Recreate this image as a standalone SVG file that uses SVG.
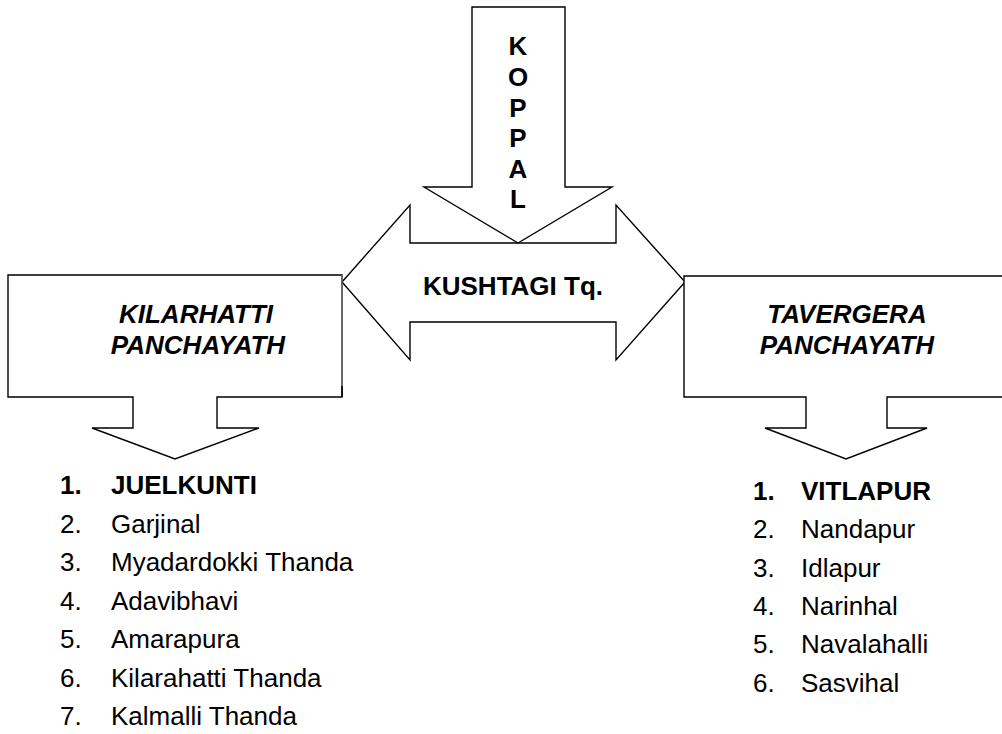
<svg xmlns="http://www.w3.org/2000/svg" width="1002" height="734" viewBox="0 0 1002 734">
<style>
.shape{fill:#fff;stroke:#000;stroke-width:1.4;stroke-linejoin:miter}
.edge{fill:none;stroke:#000;stroke-width:1.4}
.t{font-family:"Liberation Sans",Arial,sans-serif;font-size:26px;fill:#000}
.b{font-weight:bold}
.bi{font-weight:bold;font-style:italic}
.c{text-anchor:middle}
</style>
<rect width="1002" height="734" fill="#fff"/>
<g id="connectors"></g>
<g id="kushtagi">
<polygon class="shape" points="342,282 410,205 410,243 616,243 616,205 685,282 616,360 616,322 410,322 410,360"/>
<text class="t b c" x="513" y="295">KUSHTAGI Tq.</text>
</g>
<g id="koppal">
<polygon class="shape" points="472,7 565,7 565,187 612,187 518,243 424,187 472,187"/>
<text class="t b c" x="518" y="55">K</text>
<text class="t b c" x="518" y="86">O</text>
<text class="t b c" x="518" y="117">P</text>
<text class="t b c" x="518" y="147">P</text>
<text class="t b c" x="518" y="178">A</text>
<text class="t b c" x="518" y="208">L</text>
</g>
<g id="kilarhatti">
<polygon class="shape" points="342,275 8,275 8,397 133,397 133,428 92,428 175,459 259,428 217,428 217,397 342,397" style="fill:#fff"/>
<line x1="342" y1="275" x2="342" y2="386" stroke="#999" stroke-width="0.8"/>
<line x1="342" y1="386" x2="342" y2="397" class="edge"/>
<text class="t bi c" x="196" y="323">KILARHATTI</text>
<text class="t bi c" x="198" y="354">PANCHAYATH</text>
</g>
<g id="tavergera">
<polygon class="shape" points="1010,276 684,276 684,397 806,397 806,428 765,428 846,459 927,428 887,428 887,397 1010,397"/>
<text class="t bi c" x="847" y="323">TAVERGERA</text>
<text class="t bi c" x="847" y="354">PANCHAYATH</text>
</g>
<g id="list-left">
<text class="t b" x="60" y="494">1.</text><text class="t b" x="111" y="494">JUELKUNTI</text>
<text class="t" x="60" y="532.5">2.</text><text class="t" x="111" y="532.5">Garjinal</text>
<text class="t" x="60" y="571">3.</text><text class="t" x="111" y="571">Myadardokki Thanda</text>
<text class="t" x="60" y="609.5">4.</text><text class="t" x="111" y="609.5">Adavibhavi</text>
<text class="t" x="60" y="648">5.</text><text class="t" x="111" y="648">Amarapura</text>
<text class="t" x="60" y="686.5">6.</text><text class="t" x="111" y="686.5">Kilarahatti Thanda</text>
<text class="t" x="60" y="725">7.</text><text class="t" x="111" y="725">Kalmalli Thanda</text>
</g>
<g id="list-right">
<text class="t b" x="753" y="500">1.</text><text class="t b" x="801" y="500">VITLAPUR</text>
<text class="t" x="753" y="538.3">2.</text><text class="t" x="801" y="538.3">Nandapur</text>
<text class="t" x="753" y="576.6">3.</text><text class="t" x="801" y="576.6">Idlapur</text>
<text class="t" x="753" y="615">4.</text><text class="t" x="801" y="615">Narinhal</text>
<text class="t" x="753" y="653.3">5.</text><text class="t" x="801" y="653.3">Navalahalli</text>
<text class="t" x="753" y="691.6">6.</text><text class="t" x="801" y="691.6">Sasvihal</text>
</g>
</svg>
